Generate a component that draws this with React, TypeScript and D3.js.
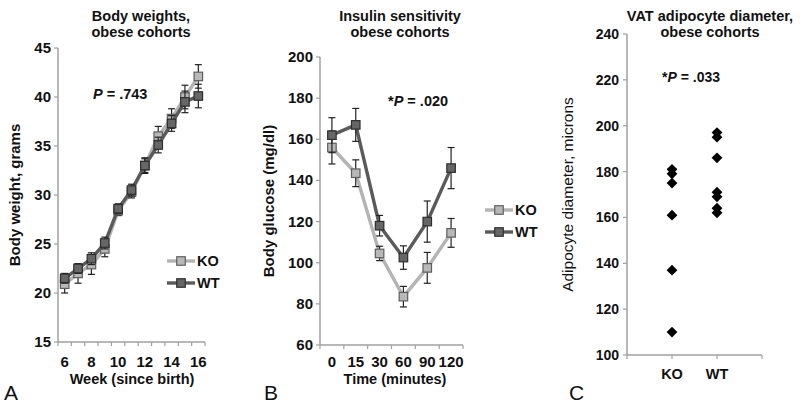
import React from 'react';
import * as d3 from 'd3';

// ---- Panel A data ----
const weeks = [6, 7, 8, 9, 10, 11, 12, 13, 14, 15, 16];
const weekTickLabels = [6, 8, 10, 12, 14, 16];
const koWeight = [20.9, 22.0, 22.9, 24.5, 28.4, 30.3, 33.0, 36.0, 37.8, 40.0, 42.1];
const koWeightErr = [0.9, 1.0, 1.0, 0.8, 0.5, 0.6, 0.7, 1.0, 1.0, 1.2, 1.2];
const wtWeight = [21.5, 22.5, 23.5, 25.1, 28.6, 30.5, 33.0, 35.1, 37.3, 39.5, 40.1];
const wtWeightErr = [0.5, 0.5, 0.6, 0.6, 0.5, 0.6, 0.8, 0.8, 0.8, 1.1, 1.2];
const weightTicks = [15, 20, 25, 30, 35, 40, 45];

// ---- Panel B data ----
const times = ['0', '15', '30', '60', '90', '120'];
const koGlucose = [156, 143.5, 104.5, 83.5, 97.5, 114.5];
const koGlucoseErr = [8, 6.5, 3.5, 5, 7.5, 7];
const wtGlucose = [162, 167, 118, 102.5, 120, 146];
const wtGlucoseErr = [8.5, 8, 5, 5.7, 10, 10];
const glucoseTicks = [60, 80, 100, 120, 140, 160, 180, 200];

// ---- Panel C data ----
const groups = ['KO', 'WT'];
const koDiameter = [181, 179, 175, 161, 137, 110];
const wtDiameter = [197, 195, 186, 171, 169, 164, 162];
const diameterTicks = [100, 120, 140, 160, 180, 200, 220, 240];

const FONT = "'Liberation Sans', Arial, Helvetica, sans-serif";
const AXIS = '#a0a0a0';
const KO_LINE = '#b4b4b4';
const KO_FILL = '#b8b8b8';
const KO_STROKE = '#5e5e5e';
const WT_LINE = '#5a5a5a';
const WT_FILL = '#666666';
const WT_STROKE = '#2e2e2e';

type Series = { vals: number[]; errs: number[]; line: string; fill: string; stroke: string };

function Square({ x, y, fill, stroke }: { x: number; y: number; fill: string; stroke: string }) {
  const s = 8.5;
  return <rect x={x - s / 2} y={y - s / 2} width={s} height={s} fill={fill} stroke={stroke} strokeWidth={1.2} />;
}

function SeriesMarks({ s, xs, y }: { s: Series; xs: number[]; y: d3.ScaleLinear<number, number> }) {
  const line = d3.line<number>().x((_, i) => xs[i]).y((v) => y(v));
  return (
    <g>
      <path d={line(s.vals) || ''} fill="none" stroke={s.line} strokeWidth={3.4} />
      {s.vals.map((v, i) => {
        const x = xs[i];
        const y1 = y(v + s.errs[i]);
        const y2 = y(v - s.errs[i]);
        return (
          <g key={'e' + i} stroke="#222" strokeWidth={1.2}>
            <line x1={x} x2={x} y1={y1} y2={y2} />
            <line x1={x - 3.5} x2={x + 3.5} y1={y1} y2={y1} />
            <line x1={x - 3.5} x2={x + 3.5} y1={y2} y2={y2} />
          </g>
        );
      })}
      {s.vals.map((v, i) => (
        <Square key={'m' + i} x={xs[i]} y={y(v)} fill={s.fill} stroke={s.stroke} />
      ))}
    </g>
  );
}

function Legend({ x, y, gap }: { x: number; y: number; gap: number }) {
  const items = [
    { label: 'KO', line: KO_LINE, fill: KO_FILL, stroke: KO_STROKE },
    { label: 'WT', line: WT_LINE, fill: WT_FILL, stroke: WT_STROKE },
  ];
  return (
    <g>
      {items.map((it, i) => (
        <g key={it.label} transform={`translate(${x},${y + i * gap})`}>
          <line x1={0} x2={28} y1={0} y2={0} stroke={it.line} strokeWidth={3.4} />
          <Square x={14} y={0} fill={it.fill} stroke={it.stroke} />
          <text x={30} y={5} fontFamily={FONT} fontWeight="bold" fontSize={14.5} fill="#111">
            {it.label}
          </text>
        </g>
      ))}
    </g>
  );
}

function CategoryLinePanel(props: {
  left: number; right: number; top: number; bottom: number;
  cats: (string | number)[]; labelCats: (string | number)[];
  domain: [number, number]; ticks: number[];
  series: Series[];
  title: string[]; titleX: number;
  yLabel: string; yLabelX: number;
  xLabel: string; xLabelX: number;
  letter: string; letterX: number;
}) {
  const { left, right, top, bottom } = props;
  const x = d3.scalePoint<string>().domain(props.cats.map(String)).range([left, right]).padding(0.5);
  const y = d3.scaleLinear().domain(props.domain).range([bottom, top]);
  const xs = props.cats.map((c) => x(String(c)) as number);
  const step = x.step();
  const boundaries = d3.range(props.cats.length + 1).map((i) => left + i * step);
  return (
    <g>
      {props.title.map((t, i) => (
        <text key={i} x={props.titleX} y={21 + i * 16} textAnchor="middle" fontFamily={FONT} fontWeight="bold" fontSize={14.5} fill="#111">{t}</text>
      ))}
      <line x1={left} x2={left} y1={top} y2={bottom} stroke={AXIS} strokeWidth={1.5} />
      <line x1={left} x2={left + props.cats.length * step} y1={bottom} y2={bottom} stroke={AXIS} strokeWidth={1.5} />
      {props.ticks.map((t) => (
        <g key={t}>
          <line x1={left - 4} x2={left} y1={y(t)} y2={y(t)} stroke={AXIS} strokeWidth={1.2} />
          <text x={left - 7} y={y(t) + 5} textAnchor="end" fontFamily={FONT} fontWeight="bold" fontSize={15} fill="#111">{t}</text>
        </g>
      ))}
      {boundaries.map((b, i) => (
        <line key={i} x1={b} x2={b} y1={bottom} y2={bottom + 4} stroke={AXIS} strokeWidth={1.2} />
      ))}
      {props.labelCats.map((c) => (
        <text key={String(c)} x={x(String(c))} y={367} textAnchor="middle" fontFamily={FONT} fontWeight="bold" fontSize={15} fill="#111">{c}</text>
      ))}
      <text x={props.xLabelX} y={383.5} textAnchor="middle" fontFamily={FONT} fontWeight="bold" fontSize={14.5} fill="#111">{props.xLabel}</text>
      <text transform={`translate(${props.yLabelX},${(top + bottom) / 2}) rotate(-90)`} textAnchor="middle" fontFamily={FONT} fontWeight="bold" fontSize={15} fill="#111">{props.yLabel}</text>
      <text x={props.letterX} y={400} fontFamily={FONT} fontSize={21} fill="#111">{props.letter}</text>
      {props.series.map((s, i) => (
        <SeriesMarks key={i} s={s} xs={xs} y={y} />
      ))}
    </g>
  );
}

function DiameterPanel() {
  const left = 627, right = 762, top = 34, bottom = 355;
  const x = d3.scaleLinear().domain([0, 3]).range([left, right]);
  const y = d3.scaleLinear().domain([100, 240]).range([bottom, top]);
  const pts = [
    ...koDiameter.map((v) => ({ g: 1, v })),
    ...wtDiameter.map((v) => ({ g: 2, v })),
  ];
  const diamondPath = (cx: number, cy: number) => {
    const r = 5.4;
    return `M${cx},${cy - r}L${cx + r},${cy}L${cx},${cy + r}L${cx - r},${cy}Z`;
  };
  return (
    <g>
      {['VAT adipocyte diameter,', 'obese cohorts'].map((t, i) => (
        <text key={i} x={710} y={21 + i * 16} textAnchor="middle" fontFamily={FONT} fontWeight="bold" fontSize={14.5} fill="#111">{t}</text>
      ))}
      <line x1={left} x2={left} y1={top} y2={bottom} stroke={AXIS} strokeWidth={1.5} />
      <line x1={left} x2={right} y1={bottom} y2={bottom} stroke={AXIS} strokeWidth={1.5} />
      {diameterTicks.map((t) => (
        <g key={t}>
          <line x1={left - 4} x2={left} y1={y(t)} y2={y(t)} stroke={AXIS} strokeWidth={1.2} />
          <text x={left - 8} y={y(t) + 5} textAnchor="end" fontFamily={FONT} fontWeight="bold" fontSize={14} fill="#111">{t}</text>
        </g>
      ))}
      {[0, 1, 2, 3].map((t) => (
        <line key={t} x1={x(t)} x2={x(t)} y1={bottom} y2={bottom + 4} stroke={AXIS} strokeWidth={1.2} />
      ))}
      {groups.map((g, i) => (
        <text key={g} x={x(i + 1)} y={379} textAnchor="middle" fontFamily={FONT} fontWeight="bold" fontSize={14.5} fill="#111">{g}</text>
      ))}
      <text transform={`translate(573,${(top + bottom) / 2}) rotate(-90)`} textAnchor="middle" fontFamily={FONT} fontSize={15.5} fill="#111">Adipocyte diameter, microns</text>
      <text x={569} y={400} fontFamily={FONT} fontSize={21} fill="#111">C</text>
      <text x={662} y={82} fontFamily={FONT} fontWeight="bold" fontSize={14} fill="#111">
        *<tspan fontStyle="italic">P</tspan> = .033
      </text>
      {pts.map((p, i) => (
        <path key={i} d={diamondPath(x(p.g), y(p.v))} fill="#000" />
      ))}
    </g>
  );
}

export default function App() {
  const koA: Series = { vals: koWeight, errs: koWeightErr, line: KO_LINE, fill: KO_FILL, stroke: KO_STROKE };
  const wtA: Series = { vals: wtWeight, errs: wtWeightErr, line: WT_LINE, fill: WT_FILL, stroke: WT_STROKE };
  const koB: Series = { vals: koGlucose, errs: koGlucoseErr, line: KO_LINE, fill: KO_FILL, stroke: KO_STROKE };
  const wtB: Series = { vals: wtGlucose, errs: wtGlucoseErr, line: WT_LINE, fill: WT_FILL, stroke: WT_STROKE };
  return (
    <svg width={800} height={406} style={{ position: 'absolute', left: 0, top: 0, background: '#fff' }}>
      <rect width={800} height={406} fill="#fff" />
      <CategoryLinePanel
        left={58} right={205} top={48} bottom={342}
        cats={weeks} labelCats={weekTickLabels}
        domain={[15, 45]} ticks={weightTicks}
        series={[koA, wtA]}
        title={['Body weights,', 'obese cohorts']} titleX={141}
        yLabel="Body weight, grams" yLabelX={20}
        xLabel="Week (since birth)" xLabelX={132}
        letter="A" letterX={4}
      />
      <text x={93} y={99} fontFamily={FONT} fontWeight="bold" fontSize={14.5} fill="#111">
        <tspan fontStyle="italic">P</tspan> = .743
      </text>
      <Legend x={167} y={261} gap={22} />
      <CategoryLinePanel
        left={320} right={463} top={57} bottom={345}
        cats={times} labelCats={times}
        domain={[60, 200]} ticks={glucoseTicks}
        series={[koB, wtB]}
        title={['Insulin sensitivity', 'obese cohorts']} titleX={400}
        yLabel="Body glucose (mg/dl)" yLabelX={274}
        xLabel="Time (minutes)" xLabelX={395}
        letter="B" letterX={264}
      />
      <text x={388} y={106} fontFamily={FONT} fontWeight="bold" fontSize={14.5} fill="#111">
        *<tspan fontStyle="italic">P</tspan> = .020
      </text>
      <Legend x={485} y={210} gap={22} />
      <DiameterPanel />
    </svg>
  );
}
